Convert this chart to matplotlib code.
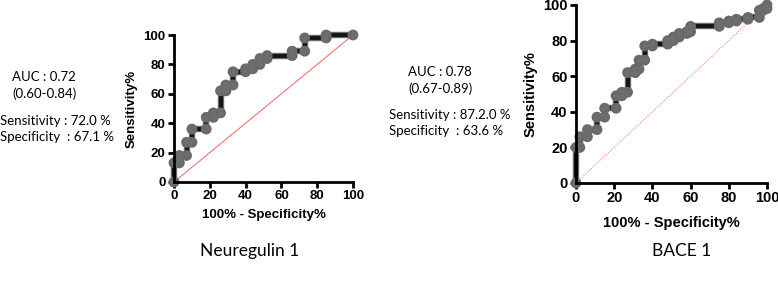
import matplotlib
matplotlib.use("Agg")
import matplotlib.pyplot as plt
import matplotlib.patheffects as pe

W, H = 778, 287

# ROC step points (100% - specificity, sensitivity)
nrg_fpr = [0, 0, 3, 3, 7, 7, 10, 10, 18, 18, 22, 22, 26, 26, 29, 29, 33, 33,
           40, 40, 44, 44, 48, 48, 52, 52, 66, 66, 73, 73, 85, 85, 100]
nrg_tpr = [0, 13, 13, 18, 18, 27, 27, 36, 36, 44, 44, 47, 47, 62, 62, 66, 66, 75,
           75, 77, 77, 80, 80, 84, 84, 86, 86, 89, 89, 98, 98, 100, 100]

bace_fpr = [0, 0, 2, 2, 6, 6, 11, 11, 15, 15, 21, 21, 24, 24, 27, 27, 31, 31, 33, 33,
            36, 36, 40, 40, 48, 48, 51, 51, 54, 54, 58, 58, 60, 60, 75, 75, 80, 80,
            84, 84, 90, 90, 96, 96, 98, 98, 100, 100]
bace_tpr = [0, 20, 20, 26, 26, 30, 30, 37, 37, 42, 42, 49, 49, 51, 51, 62, 62, 64, 64, 69,
            69, 77, 77, 78, 78, 80, 80, 82, 82, 84, 84, 85, 85, 88, 88, 90, 90, 91,
            91, 92, 92, 93, 93, 97, 97, 98, 98, 100]

ticks = [0, 20, 40, 60, 80, 100]
titles = ["Neuregulin 1", "BACE 1"]
stats_txt = [["AUC : 0.72", "(0.60-0.84)", "Sensitivity : 72.0 %", "Specificity  : 67.1 %"],
             ["AUC : 0.78", "(0.67-0.89)", "Sensitivity : 87.2.0 %", "Specificity  : 63.6 %"]]

fig = plt.figure(figsize=(W / 100, H / 100), dpi=100)


def px_axes(x0, x1, y0, y1):
    return fig.add_axes([x0 / W, 1 - y1 / H, (x1 - x0) / W, (y1 - y0) / H])


def draw_roc(ax, fpr, tpr, fs, diag_ls, lpad):
    ax.plot([0, 100], [0, 100], color="#f06060", lw=0.7, ls=diag_ls, zorder=1)
    ax.plot(fpr, tpr, color="#151515", lw=2.8, zorder=2, clip_on=False,
            marker="o", ms=3.2, mfc="#6e6e6e", mec="#6e6e6e", mew=0.5,
            path_effects=[pe.Stroke(linewidth=4.6, foreground="#6a6a6a"), pe.Normal()])
    ax.set_xlim(0, 100)
    ax.set_ylim(0, 100)
    ax.set_xticks(ticks)
    ax.set_yticks(ticks)
    for s in ["top", "right"]:
        ax.spines[s].set_visible(False)
    for s in ["left", "bottom"]:
        ax.spines[s].set_linewidth(2)
    ax.tick_params(width=2, length=4, labelsize=fs, pad=2)
    for lab in ax.get_xticklabels() + ax.get_yticklabels():
        lab.set_fontweight("bold")
        lab.set_family("Liberation Sans")
    ax.set_xlabel("100% - Specificity%", fontsize=fs, fontweight="bold",
                  family="Liberation Sans", labelpad=lpad)
    ax.set_ylabel("Sensitivity%", fontsize=fs, fontweight="bold",
                  family="Liberation Sans", labelpad=4)


ax1 = px_axes(174, 353, 35, 182)
draw_roc(ax1, nrg_fpr, nrg_tpr, 9.5, "-", 5)
ax2 = px_axes(576, 767, 5, 183)
draw_roc(ax2, bace_fpr, bace_tpr, 10.5, ":", 8)


def ftext(x, y, s, size=9.5, ha="left"):
    fig.text(x / W, 1 - y / H, s, fontsize=size, family="Lato", ha=ha, va="center")


# annotations
l = stats_txt[0]
ftext(12, 77, l[0])
ftext(12, 94, l[1])
ftext(0, 121, l[2])
ftext(0, 137, l[3])
r = stats_txt[1]
ftext(408, 72, r[0])
ftext(408, 89, r[1])
ftext(389, 115, r[2])
ftext(389, 131, r[3])

ftext(250, 251, titles[0], size=12.5, ha="center")
ftext(682, 251, titles[1], size=12.5, ha="center")

plt.savefig("out.png", dpi=100)
